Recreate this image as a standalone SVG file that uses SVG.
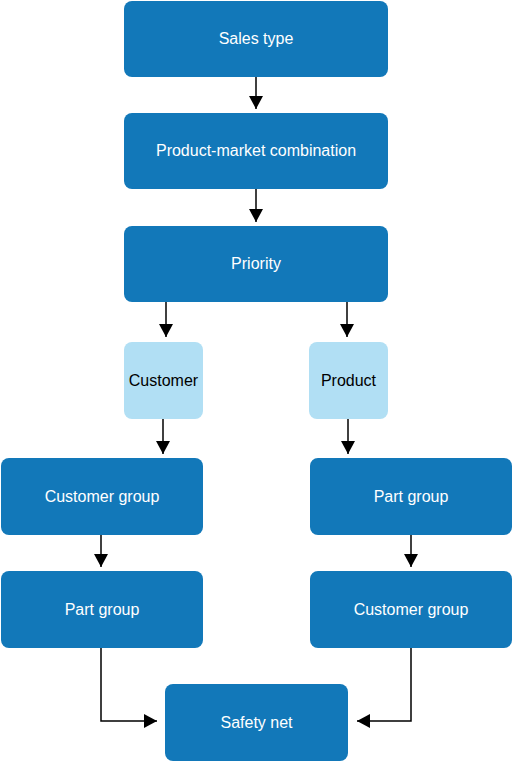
<svg xmlns="http://www.w3.org/2000/svg" width="513" height="762" viewBox="0 0 513 762">
<style>
.n{fill:#1278b9;}
.l{fill:#b1dff4;}
text{font-family:"Liberation Sans",Arial,sans-serif;font-size:16px;text-anchor:middle;}
.w{fill:#ffffff;}
.b{fill:#000000;}
.c{fill:none;stroke:#000;stroke-width:1.5;}
</style>
<defs>
<marker id="ah" markerUnits="userSpaceOnUse" markerWidth="14" markerHeight="14" viewBox="0 0 14 14" refX="13" refY="7" orient="auto">
<path d="M0,0 L13,7 L0,14 Z" fill="#000"/>
</marker>
</defs>
<rect width="513" height="762" fill="#fff"/>
<g id="connectors">
<path class="c" d="M256,77 V109" marker-end="url(#ah)"/>
<path class="c" d="M256,189 V222" marker-end="url(#ah)"/>
<path class="c" d="M166,302 V337" marker-end="url(#ah)"/>
<path class="c" d="M347,302 V337" marker-end="url(#ah)"/>
<path class="c" d="M163,419 V454" marker-end="url(#ah)"/>
<path class="c" d="M348,419 V454" marker-end="url(#ah)"/>
<path class="c" d="M101,535 V567" marker-end="url(#ah)"/>
<path class="c" d="M411,535 V567" marker-end="url(#ah)"/>
<path class="c" d="M101,648 V721 H157" marker-end="url(#ah)"/>
<path class="c" d="M411,648 V721 H357" marker-end="url(#ah)"/>
</g>
<g id="sales-type"><rect class="n" x="124" y="1" width="264" height="76" rx="8"/><text class="w" x="256" y="44">Sales type</text></g>
<g id="pmc"><rect class="n" x="124" y="113" width="264" height="76" rx="8"/><text class="w" x="256" y="156">Product-market combination</text></g>
<g id="priority"><rect class="n" x="124" y="226" width="264" height="76" rx="8"/><text class="w" x="256" y="269">Priority</text></g>
<g id="customer"><rect class="l" x="124" y="342" width="79" height="77" rx="8"/><text class="b" x="163.5" y="386">Customer</text></g>
<g id="product"><rect class="l" x="309" y="342" width="79" height="77" rx="8"/><text class="b" x="348.5" y="386">Product</text></g>
<g id="customer-group-l"><rect class="n" x="1" y="458" width="202" height="77" rx="8"/><text class="w" x="102" y="502">Customer group</text></g>
<g id="part-group-r"><rect class="n" x="310" y="458" width="202" height="77" rx="8"/><text class="w" x="411" y="502">Part group</text></g>
<g id="part-group-l"><rect class="n" x="1" y="571" width="202" height="77" rx="8"/><text class="w" x="102" y="615">Part group</text></g>
<g id="customer-group-r"><rect class="n" x="310" y="571" width="202" height="77" rx="8"/><text class="w" x="411" y="615">Customer group</text></g>
<g id="safety-net"><rect class="n" x="165" y="684" width="183" height="77" rx="8"/><text class="w" x="256.5" y="728">Safety net</text></g>
</svg>
